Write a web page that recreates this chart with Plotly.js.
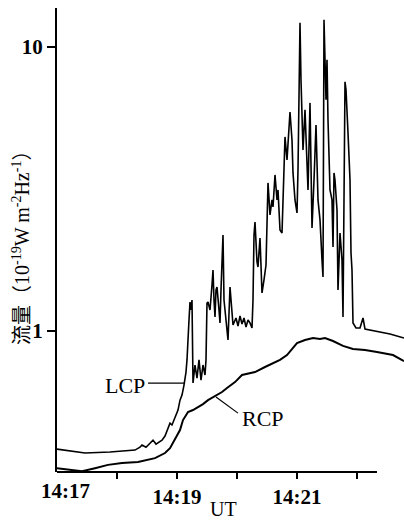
<!DOCTYPE html>
<html>
<head>
<meta charset="utf-8">
<script src="https://cdn.plot.ly/plotly-3.0.1.min.js"></script>
<style>html,body{margin:0;padding:0;background:#fff;}#chart{width:404px;height:523px;}</style>
</head>
<body>
<div id="chart"></div>
<script>
// time in seconds after 14:17:00 UT; flux in 10^-19 W m^-2 Hz^-1
const lcpTime = [0,13,28,53,78,83,85,89,93,96,99,103,105,108,111,113,115,118,121,123,125,127,128,129,130,131,132,133,134,135,136,138,140,142,144,146,148,149,150,151,153,155,156,157,158,159,160,162,163,164,166,167,169,171,173,175,176,179,181,183,185,187,189,191,193,195,196,197,198,200,201,203,205,207,209,211,213,215,216,218,220,221,223,225,227,228,230,232,233,235,236,238,240,241,243,244,245,246,248,250,251,253,255,257,259,261,263,265,266,267,268,269,270,271,273,275,276,277,278,280,281,283,285,286,288,289,291,293,294,295,296,299,303,305,306,308,318,333,347];
const lcpFlux = [0.384,0.378,0.372,0.375,0.381,0.390,0.397,0.390,0.403,0.413,0.400,0.410,0.413,0.427,0.456,0.474,0.467,0.498,0.527,0.571,0.595,0.645,0.672,0.717,0.791,0.893,1.093,1.265,1.186,1.286,0.656,0.759,0.683,0.791,0.672,0.759,0.700,0.791,1.255,1.265,1.186,1.452,1.640,1.286,1.120,1.394,1.429,1.186,1.067,1.394,2.178,1.286,1.120,0.930,1.429,1.138,1.050,1.111,1.041,1.129,1.058,1.111,1.033,1.093,1.067,1.025,1.286,2.178,2.420,1.750,1.680,2.125,1.361,1.512,1.707,3.32,2.562,2.892,2.733,3.542,2.892,3.137,2.268,2.213,3.40,4.82,4.00,5.10,5.90,4.70,3.60,2.892,2.603,3.69,12.15,7.65,5.53,4.34,6.00,3.40,3.137,6.35,2.305,3.40,5.31,2.892,2.46,1.778,1.549,12.45,9.52,6.51,9.00,5.53,3.137,2.892,1.976,3.60,3.40,2.667,1.394,2.213,1.778,1.120,7.53,7.06,4.98,3.40,1.882,1.640,1.067,1.025,1.025,1.076,1.111,1.016,1.000,0.976,0.945];
const rcpTime = [0,13,25,38,51,65,81,98,108,113,116,120,123,126,128,131,136,141,146,151,158,165,170,178,185,193,198,208,216,223,230,235,240,248,256,263,268,276,286,296,308,320,336,347];
const rcpFlux = [0.329,0.324,0.321,0.329,0.338,0.343,0.346,0.357,0.372,0.387,0.403,0.427,0.448,0.486,0.498,0.519,0.527,0.540,0.553,0.571,0.591,0.610,0.630,0.661,0.700,0.711,0.717,0.747,0.772,0.791,0.823,0.864,0.907,0.930,0.945,0.937,0.945,0.922,0.886,0.864,0.857,0.844,0.823,0.784];
const xTickVals = [120,240];
const xTickText = ['14:19','14:21'];
const xMinorVals = [60,180,300];
const firstTickLabel = '14:17';
const yTickVals = [1,10];
const yTickText = ['1','10'];

const serif = 'Liberation Serif, Noto Sans CJK SC, serif';

const traces = [
  {x: lcpTime, y: lcpFlux, type: 'scatter', mode: 'lines', name: 'LCP',
   line: {color: '#000', width: 1.6}},
  {x: rcpTime, y: rcpFlux, type: 'scatter', mode: 'lines', name: 'RCP',
   line: {color: '#000', width: 2}}
];

const layout = {
  width: 404, height: 523,
  margin: {l: 57, r: 0, t: 8, b: 51},
  paper_bgcolor: '#fff', plot_bgcolor: '#fff',
  showlegend: false,
  font: {family: serif, color: '#000'},
  xaxis: {
    range: [0, 347], showgrid: false, zeroline: false, showline: false,
    tickmode: 'array', tickvals: xTickVals, ticktext: xTickText,
    ticks: 'outside', ticklen: 6, tickwidth: 1.5, tickcolor: '#000',
    tickfont: {family: serif, size: 21, weight: 'bold'},
    minor: {tickmode: 'array', tickvals: xMinorVals, ticks: 'outside', ticklen: 6,
            tickwidth: 1.5, tickcolor: '#000', showgrid: false}
  },
  yaxis: {
    type: 'log', range: [Math.log10(0.319), Math.log10(13.7)],
    showgrid: false, zeroline: false, showline: true, linecolor: '#000', linewidth: 2,
    tickmode: 'array', tickvals: yTickVals, ticktext: yTickText,
    ticks: 'outside', ticklen: 8, tickwidth: 1.5, tickcolor: '#000',
    tickfont: {family: serif, size: 21, weight: 'bold'}
  },
  shapes: [
    {type: 'line', xref: 'x', yref: 'paper', x0: 0, x1: 320, y0: 0, y1: 0,
     line: {color: '#000', width: 1.8}},
    {type: 'line', xref: 'x', yref: 'y', x0: 91, x1: 127, y0: 0.656, y1: 0.656,
     line: {color: '#000', width: 1.2}},
    {type: 'line', xref: 'x', yref: 'y', x0: 159, x1: 181, y0: 0.586, y1: 0.514,
     line: {color: '#000', width: 1.2}}
  ],
  annotations: [
    {text: firstTickLabel, xref: 'x', yref: 'paper', x: 8, y: 0, yshift: -19,
     showarrow: false, xanchor: 'center', yanchor: 'middle',
     font: {family: serif, size: 21, weight: 'bold'}},
    {text: 'UT', xref: 'paper', yref: 'paper', x: (223-57)/347, y: 0, yshift: -37,
     showarrow: false, xanchor: 'center', yanchor: 'middle',
     font: {family: serif, size: 20}},
    {text: 'LCP', xref: 'x', yref: 'y', x: 90, y: Math.log10(0.645),
     showarrow: false, xanchor: 'right', yanchor: 'middle',
     font: {family: serif, size: 22}},
    {text: 'RCP', xref: 'x', yref: 'y', x: 183, y: Math.log10(0.494),
     showarrow: false, xanchor: 'left', yanchor: 'middle',
     font: {family: serif, size: 22}},
    {text: '流量（10<sup>-19</sup>W m<sup>-2</sup>Hz<sup>-1</sup>）', xref: 'paper', yref: 'paper',
     x: (21-57)/347, y: (472-243)/464, textangle: -90,
     showarrow: false, xanchor: 'center', yanchor: 'middle',
     font: {family: serif, size: 20}}
  ]
};

Plotly.newPlot('chart', traces, layout, {staticPlot: true, displayModeBar: false});
</script>
</body>
</html>
